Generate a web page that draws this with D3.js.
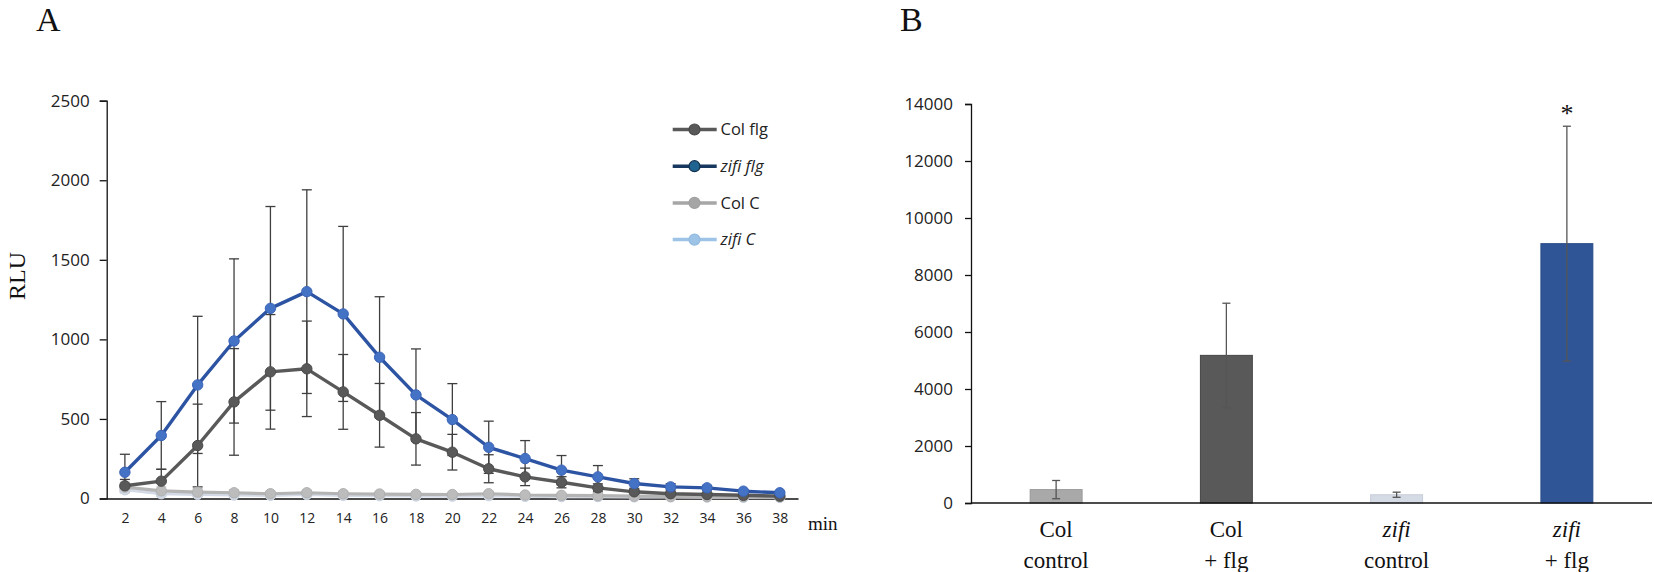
<!DOCTYPE html>
<html lang="en">
<head>
<meta charset="UTF-8">
<script src="https://cdn.jsdelivr.net/npm/d3@7"></script>
<title>ROS burst - RLU</title>
<style>
    body { margin: 0; background: #fff; }
    svg { display: block; }
    .tick text { font-family: "Open Sans", sans-serif; fill: #222; }
    .serif { font-family: "Liberation Serif", "Times New Roman", serif; fill: #111; }
</style>
</head>
<body>
<script>
    /*------------------ data: panel A (time course) ------------------*/
    const minutes = [2, 4, 6, 8, 10, 12, 14, 16, 18, 20, 22, 24, 26, 28, 30, 32, 34, 36, 38];
    const colFlg = [80, 109, 333, 607, 796, 815, 670, 523, 375, 291, 187, 136, 102, 67, 42, 30, 25, 20, 15];
    const colFlgErr = [40, 75, 260, 335, 360, 300, 235, 200, 165, 112, 88, 55, 35, 25, 15, 10, 8, 6, 5];
    const zifiFlg = [165, 396, 714, 990, 1195, 1300, 1160, 888, 651, 496, 322, 251, 178, 136, 94, 73, 67, 46, 36];
    const zifiFlgErr = [113, 213, 431, 516, 640, 640, 550, 380, 289, 226, 164, 113, 92, 71, 30, 20, 15, 10, 8];
    const colC = [72, 48, 40, 36, 30, 36, 30, 28, 26, 25, 30, 22, 20, 18, 15, 13, 12, 11, 10];
    const colCErr = [30, 25, 22, 20, 16, 16, 15, 13, 12, 10, 12, 10, 8, 8, 6, 5, 5, 5, 5];
    const zifiC = [55, 30, 26, 22, 20, 25, 20, 18, 16, 15, 18, 14, 12, 12, 10, 10, 9, 8, 8];
    const zifiCErr = [20, 15, 12, 12, 10, 12, 10, 9, 8, 8, 9, 7, 6, 6, 5, 5, 4, 4, 4];
    const seriesNames = ["Col flg", "zifi flg", "Col C", "zifi C"];
    const yTicksA = [0, 500, 1000, 1500, 2000, 2500];

    /*------------------ data: panel B (totals) ------------------*/
    const barTop = ["Col", "Col", "zifi", "zifi"];
    const barBottom = ["control", "+ flg", "control", "+ flg"];
    const barValues = [470, 5180, 290, 9100];
    const barErr = [320, 1830, 90, 4120];
    const yTicksB = [0, 2000, 4000, 6000, 8000, 10000, 12000, 14000];

    /*------------------ svg ------------------*/
    const W = 1654, H = 572;
    const svg = d3.select("body").append("svg").attr("width", W).attr("height", H);
    const plain = d3.format("d");

    /*------------------ panel A ------------------*/
    const A = { left: 106.7, right: 798, top: 100.7, bottom: 498.5 };
    const styleA = [
        { line: "#595959", dot: "#595959", stroke: "#4a4a4a", w: 3.4 },
        { line: "#2d54a3", dot: "#4472c4", stroke: "#3a64b8", w: 3.4 },
        { line: "#b4b4b4", dot: "#bcbcbc", stroke: "#b0b0b0", w: 3.2 },
        { line: "#d3dae5", dot: "#d0d8e4", stroke: "#c8d1de", w: 3.2 }
    ];
    const valuesA = [colFlg, zifiFlg, colC, zifiC];
    const errsA = [colFlgErr, zifiFlgErr, colCErr, zifiCErr];

    const xA = d3.scalePoint().domain(minutes).range([A.left, A.right]).padding(0.5);
    const yA = d3.scaleLinear().domain([0, 2500]).range([A.bottom, A.top]);

    const gA = svg.append("g");

    gA.append("g")
        .attr("transform", `translate(${A.left},0)`)
        .call(d3.axisLeft(yA).tickValues(yTicksA).tickFormat(plain).tickSize(7).tickPadding(10))
        .call(g => g.selectAll("text").style("font-size", "17px"))
        .call(g => g.selectAll("line, path").attr("stroke", "#111").attr("stroke-width", 1.3));

    gA.append("g")
        .attr("transform", `translate(0,${A.bottom})`)
        .call(d3.axisBottom(xA).tickSize(0).tickPadding(15))
        .call(g => g.select(".domain").attr("stroke", "#111").attr("stroke-width", 1.5))
        .call(g => g.selectAll("text").style("font-size", "14px"));

    gA.append("text").attr("class", "serif")
        .attr("x", 808).attr("y", 530)
        .style("font-size", "19px").text("min");

    // error bars first, lines on top
    valuesA.forEach((vals, s) => {
        const g = gA.append("g").attr("stroke-width", 1.3);
        const cc = s < 2 ? "#3f3f3f" : "#c4c4c4";
        minutes.forEach((m, i) => {
            const x = xA(m);
            const lo = yA(Math.max(0, vals[i] - errsA[s][i])), hi = yA(vals[i] + errsA[s][i]);
            g.append("line").attr("x1", x).attr("x2", x).attr("y1", lo).attr("y2", hi).attr("stroke", cc);
            g.append("line").attr("x1", x - 5).attr("x2", x + 5).attr("y1", hi).attr("y2", hi).attr("stroke", cc);
            g.append("line").attr("x1", x - 5).attr("x2", x + 5).attr("y1", lo).attr("y2", lo).attr("stroke", cc);
        });
    });

    const lineA = d3.line().x((d, i) => xA(minutes[i])).y(d => yA(d));
    [3, 2, 0, 1].forEach(s => {
        gA.append("path").datum(valuesA[s])
            .attr("d", lineA).attr("fill", "none")
            .attr("stroke", styleA[s].line).attr("stroke-width", styleA[s].w)
            .attr("stroke-linejoin", "round");
        gA.selectAll(null).data(valuesA[s]).enter().append("circle")
            .attr("cx", (d, i) => xA(minutes[i])).attr("cy", d => yA(d)).attr("r", 5.2)
            .attr("fill", styleA[s].dot).attr("stroke", styleA[s].stroke).attr("stroke-width", 1);
    });

    // legend
    const legendStyle = [
        { line: "#595959", dot: "#595959", stroke: "#4a4a4a" },
        { line: "#17375e", dot: "#1f6391", stroke: "#10304f" },
        { line: "#a6a6a6", dot: "#a6a6a6", stroke: "#a0a0a0" },
        { line: "#9dc3e6", dot: "#9dc3e6", stroke: "#94bbe0" }
    ];
    const leg = gA.append("g");
    seriesNames.forEach((name, i) => {
        const y = 129.5 + i * 36.7;
        leg.append("line").attr("x1", 672.7).attr("x2", 716.7).attr("y1", y).attr("y2", y)
            .attr("stroke", legendStyle[i].line).attr("stroke-width", 3.5);
        leg.append("circle").attr("cx", 694.5).attr("cy", y).attr("r", 5.5)
            .attr("fill", legendStyle[i].dot).attr("stroke", legendStyle[i].stroke).attr("stroke-width", 1.2);
        leg.append("text").attr("x", 720.5).attr("y", y).attr("dy", "0.35em")
            .style("font-family", "'Open Sans', sans-serif").style("font-size", "16.5px")
            .style("font-style", name.startsWith("zifi") ? "italic" : "normal")
            .attr("fill", "#222").text(name);
    });

    gA.append("text").attr("class", "serif").attr("transform", "translate(25,276) rotate(-90)")
        .attr("text-anchor", "middle").style("font-size", "24px").text("RLU");

    gA.append("text").attr("class", "serif").attr("x", 36).attr("y", 31)
        .style("font-size", "34px").text("A");

    /*------------------ panel B ------------------*/
    const B = { left: 971, right: 1652, top: 104, bottom: 503 };
    const barFill = ["#a9a9a9", "#595959", "#d5dbe4", "#2f5597"];
    const barStroke = ["#999999", "#444444", "#c6cdd8", "#284b86"];

    const xB = d3.scaleBand().domain(d3.range(barValues.length)).range([B.left, B.right])
        .paddingInner(0.695).paddingOuter(0.3475);
    const yB = d3.scaleLinear().domain([0, 14000]).range([B.bottom, B.top]);

    const gB = svg.append("g");

    gB.append("g")
        .attr("transform", `translate(${B.left},0)`)
        .call(d3.axisLeft(yB).tickValues(yTicksB).tickFormat(plain).tickSize(6).tickPadding(12))
        .call(g => g.selectAll("text").style("font-size", "17px"))
        .call(g => g.selectAll("line, path").attr("stroke", "#111").attr("stroke-width", 1.3));

    gB.selectAll("rect.bar").data(barValues).enter().append("rect")
        .attr("class", "bar")
        .attr("x", (d, i) => xB(i)).attr("width", xB.bandwidth())
        .attr("y", d => yB(d)).attr("height", d => B.bottom - yB(d))
        .attr("fill", (d, i) => barFill[i]).attr("stroke", (d, i) => barStroke[i]).attr("stroke-width", 1);

    const gErr = gB.append("g").attr("stroke", "#555").attr("stroke-width", 1.3);
    barValues.forEach((v, i) => {
        const x = xB(i) + xB.bandwidth() / 2;
        const lo = yB(v - barErr[i]), hi = yB(v + barErr[i]);
        gErr.append("line").attr("x1", x).attr("x2", x).attr("y1", lo).attr("y2", hi);
        gErr.append("line").attr("x1", x - 4).attr("x2", x + 4).attr("y1", hi).attr("y2", hi);
        gErr.append("line").attr("x1", x - 4).attr("x2", x + 4).attr("y1", lo).attr("y2", lo);
    });

    gB.append("line").attr("x1", B.left).attr("x2", B.right).attr("y1", B.bottom).attr("y2", B.bottom)
        .attr("stroke", "#111").attr("stroke-width", 1.5);

    barTop.forEach((t, i) => {
        const x = xB(i) + xB.bandwidth() / 2;
        gB.append("text").attr("class", "serif").attr("x", x).attr("y", 537)
            .attr("text-anchor", "middle").style("font-size", "23px")
            .style("font-style", t === "zifi" ? "italic" : "normal").text(t);
        gB.append("text").attr("class", "serif").attr("x", x).attr("y", 568)
            .attr("text-anchor", "middle").style("font-size", "23px").text(barBottom[i]);
    });

    // significance mark over zifi + flg
    gB.append("text").attr("class", "serif")
        .attr("x", xB(3) + xB.bandwidth() / 2).attr("y", yB(barValues[3] + barErr[3]) - 4)
        .attr("text-anchor", "middle").style("font-size", "26px").text("*");

    gB.append("text").attr("class", "serif").attr("x", 900).attr("y", 31)
        .style("font-size", "34px").text("B");
</script>
</body>
</html>
